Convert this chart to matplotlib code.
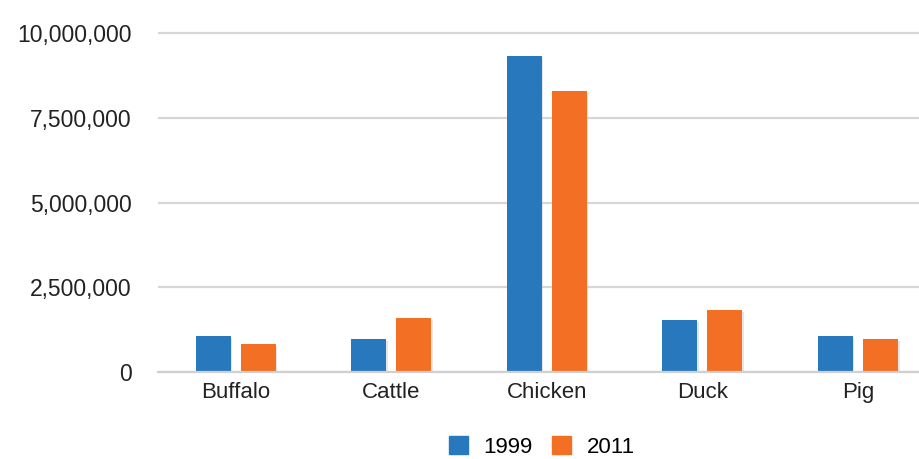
import numpy as np
import matplotlib
matplotlib.use("Agg")
import matplotlib.pyplot as plt
import matplotlib.patheffects as pe
from matplotlib.patches import Patch
from matplotlib.ticker import FuncFormatter

# livestock counts
animals = ["Buffalo", "Cattle", "Chicken", "Duck", "Pig"]
years = ["1999", "2011"]
counts_1999 = [1060000, 960000, 9320000, 1520000, 1050000]
counts_2011 = [830000, 1580000, 8290000, 1820000, 960000]

blue = "#2878BD"
orange = "#F36F24"

plt.rcParams["font.family"] = ["Liberation Sans", "DejaVu Sans"]

fig = plt.figure(figsize=(9.2, 4.59), dpi=100)
ax = fig.add_axes([0.1717, 0.1895, 0.8283, 0.7423])

x = np.arange(len(animals))
w = 0.225
off = 0.145
shadow = [pe.SimplePatchShadow(offset=(1.2, -1.2), shadow_rgbFace="#c8c8c8", alpha=0.45), pe.Normal()]
ax.bar(x - off, counts_1999, w, color=blue, zorder=3, path_effects=shadow)
ax.bar(x + off, counts_2011, w, color=orange, zorder=3, path_effects=shadow)

ax.set_xlim(-0.5, 4.4)
ax.set_ylim(0, 10050000)
ax.set_yticks([0, 2500000, 5000000, 7500000, 10000000])
ax.yaxis.set_major_formatter(FuncFormatter(lambda v, p: f"{int(v):,}"))
ax.set_xticks(x)
ax.set_xticklabels(animals)

ax.grid(axis="y", color="#d6d6d6", linewidth=1.6, zorder=0)
for s in ["top", "right", "left"]:
    ax.spines[s].set_visible(False)
ax.spines["bottom"].set_color("#d0d0d0")
ax.spines["bottom"].set_linewidth(1.6)
ax.spines["bottom"].set_zorder(4)
ax.tick_params(axis="y", length=0, pad=19, labelsize=16.5, labelcolor="#222222")
ax.tick_params(axis="x", length=0, pad=7, labelsize=16, labelcolor="#222222")

handles = [Patch(color=blue), Patch(color=orange)]
fig.legend(handles=handles, labels=years, loc="center", ncol=2, frameon=False,
           fontsize=16, handlelength=0.85, handleheight=0.85, handletextpad=0.7,
           columnspacing=0.9, bbox_to_anchor=(0.589, 0.026))

fig.savefig("out.png", dpi=100)
